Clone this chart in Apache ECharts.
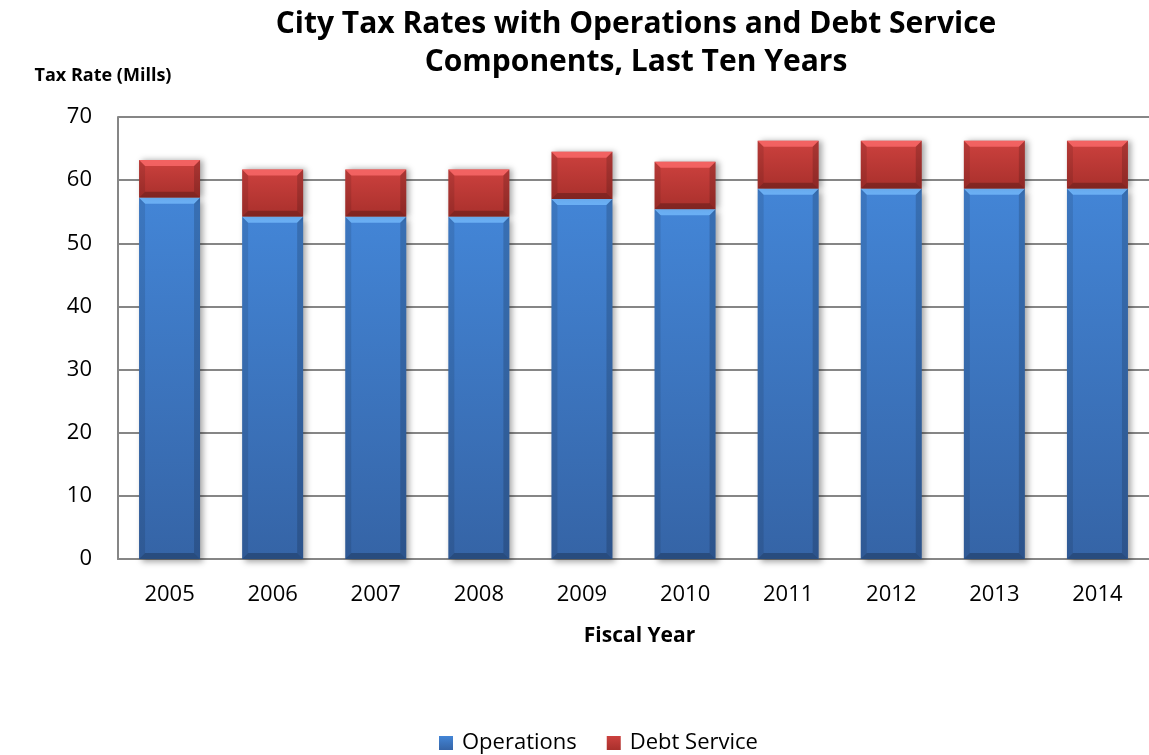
<!DOCTYPE html>
<html>
<head>
<meta charset="utf-8">
<script src="https://cdn.jsdelivr.net/npm/echarts@6/dist/echarts.min.js"></script>
<style>
  html, body { margin: 0; padding: 0; background: #ffffff; }
  #chart { width: 1149px; height: 755px; }
</style>
</head>
<body>
<div id="chart"></div>
<script>
// Fiscal years and mill rates
const years = ['2005', '2006', '2007', '2008', '2009', '2010', '2011', '2012', '2013', '2014'];
const operations = [57.2, 54.2, 54.2, 54.2, 57.0, 55.4, 58.65, 58.65, 58.65, 58.65];
const debtService = [6.0, 7.5, 7.5, 7.5, 7.5, 7.5, 7.6, 7.6, 7.6, 7.6];
const yTicks = [0, 10, 20, 30, 40, 50, 60, 70];

const FONT = '"Open Sans"';
const BAR_W = 61;
const BEVEL = 6;

const chart = echarts.init(document.getElementById('chart'));

const blueFill = new echarts.graphic.LinearGradient(0, 0, 0, 1, [
  { offset: 0, color: '#4385d6' },
  { offset: 1, color: '#3564a6' }
]);
const redFill = new echarts.graphic.LinearGradient(0, 0, 0, 1, [
  { offset: 0, color: '#cc413e' },
  { offset: 1, color: '#a9302c' }
]);

// Bevel overlay: light top edge, shaded sides and bottom for each stacked segment
function bevelSegment(l, r, top, bottom, light, children) {
  const b = Math.min(BEVEL, (bottom - top) / 2);
  children.push({
    type: 'polygon',
    shape: { points: [[l, top], [r, top], [r - b, top + b], [l + b, top + b]] },
    style: { fill: light }
  });
  children.push({
    type: 'polygon',
    shape: { points: [[l, top], [l + b, top + b], [l + b, bottom - b], [l, bottom]] },
    style: { fill: 'rgba(0,0,0,0.10)' }
  });
  children.push({
    type: 'polygon',
    shape: { points: [[r, top], [r - b, top + b], [r - b, bottom - b], [r, bottom]] },
    style: { fill: 'rgba(0,0,0,0.16)' }
  });
  children.push({
    type: 'polygon',
    shape: { points: [[l, bottom], [l + b, bottom - b], [r - b, bottom - b], [r, bottom]] },
    style: { fill: 'rgba(0,0,0,0.24)' }
  });
}

const bevelData = years.map((y, i) => [i, operations[i], debtService[i]]);

chart.setOption({
  animation: false,
  textStyle: { fontFamily: FONT },
  title: {
    text: 'City Tax Rates with Operations and Debt Service\nComponents, Last Ten Years',
    left: 631,
    top: 0,
    textAlign: 'center',
    textStyle: { fontFamily: FONT, fontSize: 30, fontWeight: 'bold', color: '#000', lineHeight: 38 }
  },
  legend: {
    data: ['Operations', 'Debt Service'],
    bottom: 1,
    left: 439,
    padding: 0,
    itemWidth: 14,
    itemHeight: 14,
    itemGap: 30,
    icon: 'rect',
    textStyle: { fontFamily: FONT, fontSize: 22, color: '#000', padding: [0, 0, 0, 4] }
  },
  grid: { left: 118, right: -8, top: 117, bottom: 196, containLabel: false },
  xAxis: {
    type: 'category',
    data: years,
    name: 'Fiscal Year',
    nameLocation: 'middle',
    nameGap: 67,
    nameTextStyle: { fontFamily: FONT, fontSize: 21, fontWeight: 'bold', color: '#000', padding: [0, 0, 0, 12] },
    axisLine: { lineStyle: { color: '#868686', width: 2 } },
    axisTick: { show: false },
    axisLabel: { fontFamily: FONT, fontSize: 22, color: '#000', margin: 25 }
  },
  yAxis: {
    type: 'value',
    min: yTicks[0],
    max: yTicks[yTicks.length - 1],
    interval: 10,
    name: 'Tax Rate (Mills)',
    nameLocation: 'end',
    nameGap: 32,
    nameTextStyle: { fontFamily: FONT, fontSize: 18, fontWeight: 'bold', color: '#000', padding: [0, 30, 0, 0] },
    axisLine: { show: true, lineStyle: { color: '#868686', width: 2 } },
    axisTick: { show: false },
    axisLabel: { fontFamily: FONT, fontSize: 22, color: '#000', margin: 26 },
    splitLine: { lineStyle: { color: '#868686', width: 2 } }
  },
  series: [
    {
      name: 'Operations',
      type: 'bar',
      stack: 'rate',
      barWidth: BAR_W,
      data: operations,
      itemStyle: {
        color: blueFill,
        shadowColor: 'rgba(0,0,0,0.35)',
        shadowBlur: 6,
        shadowOffsetX: 3,
        shadowOffsetY: 3
      }
    },
    {
      name: 'Debt Service',
      type: 'bar',
      stack: 'rate',
      barWidth: BAR_W,
      data: debtService,
      itemStyle: {
        color: redFill,
        shadowColor: 'rgba(0,0,0,0.35)',
        shadowBlur: 6,
        shadowOffsetX: 3,
        shadowOffsetY: 0
      }
    },
    {
      name: 'bevel',
      type: 'custom',
      silent: true,
      z: 5,
      data: bevelData,
      encode: { x: 0, y: 1 },
      renderItem: function (params, api) {
        const i = api.value(0);
        const ops = api.value(1);
        const debt = api.value(2);
        const p0 = api.coord([i, 0]);
        const p1 = api.coord([i, ops]);
        const p2 = api.coord([i, ops + debt]);
        const l = p0[0] - BAR_W / 2;
        const r = p0[0] + BAR_W / 2;
        const children = [];
        bevelSegment(l, r, p1[1], p0[1], 'rgba(120,190,255,0.75)', children);
        bevelSegment(l, r, p2[1], p1[1], 'rgba(255,110,110,0.75)', children);
        return { type: 'group', children: children };
      }
    }
  ]
});
</script>
</body>
</html>
